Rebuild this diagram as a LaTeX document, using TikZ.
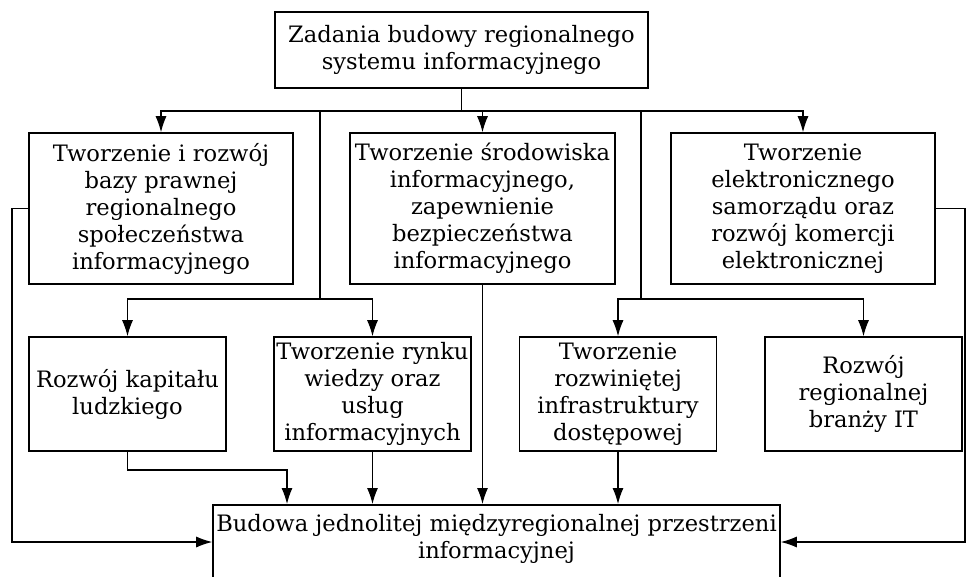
\documentclass[tikz,border=0pt]{standalone}
\usepackage{fontspec}
\setmainfont{DejaVu Serif}
\usetikzlibrary{arrows.meta}
\begin{document}
\begin{tikzpicture}[x=1pt,y=-1pt,
  box/.style={draw, line width=1.6pt, align=center, inner sep=0pt,
    font=\fontsize{22.6}{27}\selectfont},
  topbox/.style={box, minimum width=264pt, minimum height=151pt},
  lowbox/.style={box, minimum width=197pt, minimum height=114pt},
  conn/.style={line width=1.1pt},
  arr/.style={conn, -{Latex[length=16pt,width=11pt]}}]
\useasboundingbox (0,0) rectangle (967,576);
\clip (0,0) rectangle (967,576);
\fill[white] (0,0) rectangle (967,576);

% boxes
\node[box, minimum width=373pt, minimum height=76pt] (top) at (461.5,50)
  {Zadania budowy regionalnego\\systemu informacyjnego};
\node[topbox] (law) at (161,208.5)
  {Tworzenie i rozwój\\bazy prawnej\\regionalnego\\społeczeństwa\\informacyjnego};
\node[topbox, minimum width=265pt] (env) at (482.5,208.5)
  {Tworzenie środowiska\\informacyjnego,\\zapewnienie\\bezpieczeństwa\\informacyjnego};
\node[topbox] (gov) at (803,208.5)
  {Tworzenie\\elektronicznego\\samorządu oraz\\rozwój komercji\\elektronicznej};
\node[lowbox] (cap) at (127.5,394) {Rozwój kapitału\\ludzkiego};
\node[lowbox] (mkt) at (372.5,394)
  {Tworzenie rynku\\wiedzy oraz\\usług\\informacyjnych};
\node[lowbox] (inf) at (618,394)
  {Tworzenie\\rozwiniętej\\infrastruktury\\dostępowej};
\node[lowbox] (itb) at (863.5,394) {Rozwój\\regionalnej\\branży IT};
\node[draw, line width=1.6pt, minimum width=567pt, minimum height=110pt,
  anchor=north, inner sep=0pt] (bot) at (496.5,504) {};
\node[anchor=north, align=center, inner sep=0pt,
  font=\fontsize{22.6}{27}\selectfont] (botlabel) at ([yshift=-10pt]bot.north)
  {Budowa jednolitej międzyregionalnej przestrzeni\\informacyjnej};

% upper distribution bus
\draw[conn] (top.south) -- (461.5,111) coordinate (hub);
\draw[arr] (hub) -| (law.north);
\draw[arr] (hub) -| (gov.north);
\draw[arr] (hub -| env.north) -- (env.north);

% branches to the lower row
\draw[conn] (320,111) coordinate (s1) -- (320,299) coordinate (j1);
\draw[arr] (j1) -| (cap.north);
\draw[arr] (j1) -| (mkt.north);
\draw[conn] (641,111) coordinate (s2) -- (641,299) coordinate (j2);
\draw[arr] (j2) -| (inf.north);
\draw[arr] (j2) -| (itb.north);

% feeds into the bottom box
\draw[arr] (cap.south) -- (127.5,470) -| (287,504);
\draw[arr] (mkt.south) -- (mkt.south |- bot.north);
\draw[arr] (env.south) -- (env.south |- bot.north);
\draw[arr] (inf.south) -- (inf.south |- bot.north);
\draw[arr] (law.west) -- (12,208.5) |- ([yshift=-38pt]bot.north west);
\draw[arr] (gov.east) -- (965,208.5) |- ([yshift=-38pt]bot.north east);
\end{tikzpicture}
\end{document}
